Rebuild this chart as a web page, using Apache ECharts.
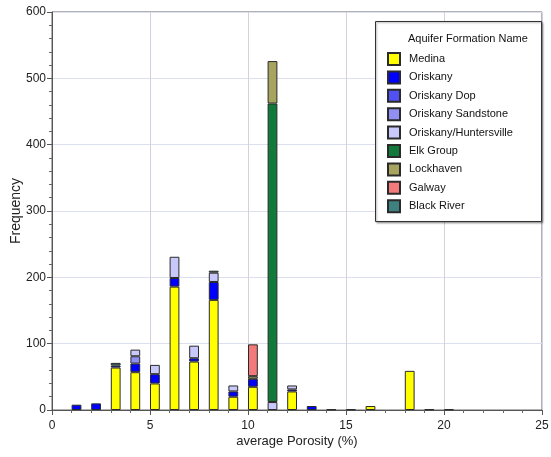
<!DOCTYPE html>
<html>
<head>
<meta charset="utf-8">
<script src="https://cdn.jsdelivr.net/npm/echarts@6/dist/echarts.min.js"></script>
<style>
  html, body { margin: 0; padding: 0; background: #fff; }
  #chart { width: 551px; height: 457px; }
</style>
</head>
<body>
<div id="chart"></div>
<script>
// Porosity bins (lower edge, %), each bin is half a unit wide
const bins = [1, 2, 3, 4, 5, 6, 7, 8, 9, 10, 11, 12, 13, 14, 15, 16, 17, 18, 19, 20];

// Well counts per bin, by aquifer formation
const medina        = [null, null, 64, 57, 40, 186, 73, 166, 20, 35, null, 28, null, 1, 1, 6, null, 59, 1, 1];
const oriskany      = [8, 10, 3, 13, 14, 13, 5, 27, 8, 12, null, 3, 6, null, null, null, null, null, null, null];
const oriskanyDop   = [null, null, null, null, null, null, null, null, null, null, null, null, null, null, null, null, null, null, null, null];
const oriskanySand  = [null, null, null, 11, null, null, null, null, null, null, null, null, null, null, null, null, null, null, null, null];
const oriskanyHunt  = [null, null, null, 10, 14, 32, 19, 14, 9, null, 12, 6, null, null, null, null, null, null, null, null];
const elkGroup      = [null, null, null, null, null, null, null, null, null, null, 450, null, null, null, null, null, null, null, null, null];
const lockhaven     = [null, null, null, null, null, null, null, null, null, 4, 64, null, null, null, null, null, null, null, null, null];
const galway        = [null, null, null, null, null, null, null, null, null, 48, null, null, null, null, null, null, null, null, null, null];
const blackRiver    = [null, null, 4, null, null, null, null, 3, null, null, null, null, null, null, null, null, null, null, null, null];

const formations = [
  { name: 'Medina', values: medina, color: '#ffff00' },
  { name: 'Oriskany', values: oriskany, color: '#0000ff' },
  { name: 'Oriskany Dop', values: oriskanyDop, color: '#5050f4' },
  { name: 'Oriskany Sandstone', values: oriskanySand, color: '#9090f4' },
  { name: 'Oriskany/Huntersville', values: oriskanyHunt, color: '#c8c8fa' },
  { name: 'Elk Group', values: elkGroup, color: '#117a3b' },
  { name: 'Lockhaven', values: lockhaven, color: '#a6a45e' },
  { name: 'Galway', values: galway, color: '#f27a7a' },
  { name: 'Black River', values: blackRiver, color: '#3f8080' }
];

// Half-unit slots from 0 to 25: each bin fills the slot starting at its lower edge
const slotWidth = 0.5;
const xMax = 25;
const slots = [];
for (let s = 0; s < xMax; s += slotWidth) slots.push(s);

function toSlots(values) {
  const out = slots.map(() => null);
  bins.forEach((b, i) => { out[Math.round(b / slotWidth)] = values[i]; });
  return out;
}

const chart = echarts.init(document.getElementById('chart'));

const series = formations.map(f => ({
  name: f.name,
  type: 'bar',
  stack: 'total',
  xAxisIndex: 0,
  barWidth: '100%',
  itemStyle: { color: f.color, borderColor: '#2a2a2a', borderWidth: 1 },
  data: toSlots(f.values)
}));

const font = 'Arial, "Liberation Sans", sans-serif';

chart.setOption({
  animation: false,
  backgroundColor: '#ffffff',
  textStyle: { fontFamily: font },
  grid: {
    left: 52, right: 9, top: 12, bottom: 47,
    containLabel: false,
    outerBoundsMode: 'none',
    show: true, borderColor: '#666', borderWidth: 1, backgroundColor: '#fff'
  },
  xAxis: [
    {
      // slot axis carrying the bars
      type: 'category',
      data: slots,
      boundaryGap: true,
      show: false
    },
    {
      // porosity scale shown under the plot
      type: 'value',
      min: 0, max: xMax, interval: 5,
      position: 'bottom',
      name: 'average Porosity (%)',
      nameLocation: 'middle',
      nameGap: 25,
      nameMoveOverlap: false,
      nameTextStyle: { fontFamily: font, fontSize: 13, color: '#222' },
      axisLine: { show: true, lineStyle: { color: '#555' } },
      axisTick: { show: true, length: 5, lineStyle: { color: '#555' } },
      minorTick: { show: true, splitNumber: 5, length: 3, lineStyle: { color: '#666' } },
      axisLabel: { fontFamily: font, fontSize: 12, color: '#222', margin: 10 },
      splitLine: { show: true, lineStyle: { color: '#d6d0dc', width: 1 } }
    }
  ],
  yAxis: {
    type: 'value',
    min: 0, max: 600, interval: 100,
    name: 'Frequency',
    nameLocation: 'middle',
    nameGap: 29,
    nameMoveOverlap: false,
    nameRotate: 90,
    nameTextStyle: { fontFamily: font, fontSize: 14, color: '#222' },
    axisLine: { show: true, lineStyle: { color: '#555' } },
    axisTick: { show: true, length: 5, lineStyle: { color: '#555' } },
    minorTick: { show: true, splitNumber: 5, length: 3, lineStyle: { color: '#666' } },
    axisLabel: { fontFamily: font, fontSize: 12, color: '#222', margin: 6 },
    splitLine: { show: true, lineStyle: { color: '#dcdfee', width: 1 } }
  },
  legend: {
    orient: 'vertical',
    left: 387, top: 52,
    padding: 0,
    itemWidth: 12, itemHeight: 12,
    itemGap: 4.4,
    icon: 'rect',
    z: 10,
    textStyle: { fontFamily: font, fontSize: 11, color: '#111', lineHeight: 12, padding: [0, 0, 0, 4] },
    data: formations.map(f => f.name)
  },
  graphic: [
    {
      type: 'rect', z: 5,
      shape: { x: 375.5, y: 21.5, width: 166, height: 200 },
      style: { fill: '#fff', stroke: '#333', lineWidth: 1, shadowBlur: 2, shadowOffsetX: 1, shadowOffsetY: 1, shadowColor: 'rgba(0,0,0,0.35)' }
    },
    {
      type: 'text', z: 6,
      left: 408, top: 33,
      style: { text: 'Aquifer Formation Name', fontFamily: font, fontSize: 11, fill: '#111' }
    }
  ],
  series: series
});
</script>
</body>
</html>
